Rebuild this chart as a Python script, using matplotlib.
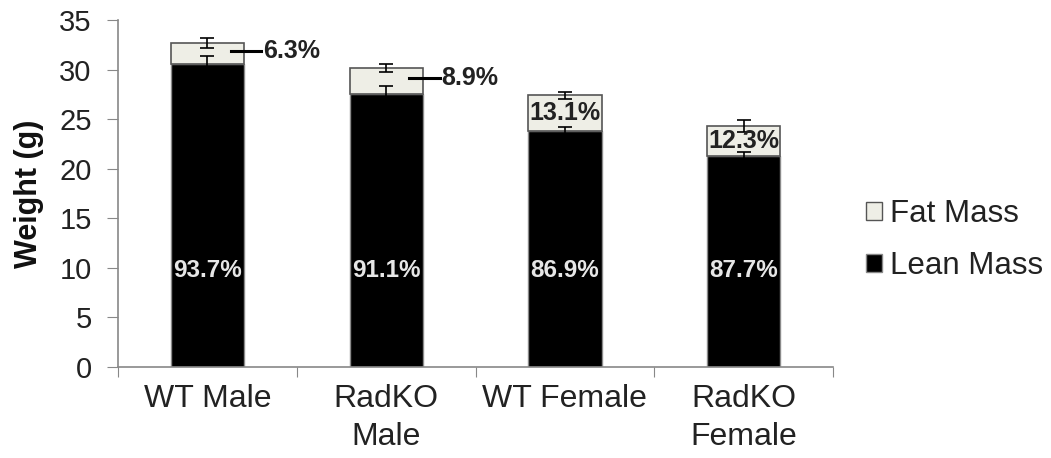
import matplotlib
matplotlib.use("Agg")
import matplotlib.pyplot as plt
from matplotlib.patches import Patch

plt.rcParams['font.family'] = ['Liberation Sans', 'DejaVu Sans']

categories = ["WT Male", "RadKO\nMale", "WT Female", "RadKO\nFemale"]
lean_mass = [30.6, 27.5, 23.8, 21.3]
fat_mass = [2.06, 2.68, 3.6, 3.0]
lean_err = [0.8, 0.9, 0.4, 0.4]
fat_err = [0.5, 0.4, 0.35, 0.6]
lean_pct = ["93.7%", "91.1%", "86.9%", "87.7%"]
fat_pct = ["6.3%", "8.9%", "13.1%", "12.3%"]

fig = plt.figure(figsize=(10.51, 4.58), dpi=100)
ax = fig.add_axes([0.1123, 0.1987, 0.6803, 0.7573])

x = list(range(len(categories)))
w = 0.41
totals = [l + f for l, f in zip(lean_mass, fat_mass)]

ax.bar(x, lean_mass, w, color='black', edgecolor='#8a8a8a', linewidth=1.0, zorder=2)
ax.bar(x, fat_mass, w, bottom=lean_mass, color='#eeeee6', edgecolor='#555555', linewidth=1.2, zorder=2)

ax.errorbar(x, lean_mass, yerr=lean_err, fmt='none', ecolor='black', elinewidth=1.2, capsize=5, capthick=1.2, zorder=3)
ax.errorbar(x, totals, yerr=fat_err, fmt='none', ecolor='black', elinewidth=1.2, capsize=5, capthick=1.2, zorder=3)

# lean labels
for i in x:
    ax.text(i, 9.7, lean_pct[i], ha='center', va='center', color='#e6e6e6',
            fontsize=17.5, fontweight='bold', zorder=4)

# fat labels
for i in x:
    if i < 2:
        yv = lean_mass[i] + fat_mass[i] * 0.62
        ax.plot([i + 0.13, i + 0.3], [yv, yv], color='black', lw=2.2, zorder=4, clip_on=False)
        ax.text(i + 0.31, yv, fat_pct[i], ha='left', va='center', color='#222222',
                fontsize=18, fontweight='bold', zorder=4)
    else:
        yv = lean_mass[i] + fat_mass[i] / 2
        ax.text(i, yv, fat_pct[i], ha='center', va='center', color='#222222',
                fontsize=18, fontweight='bold', zorder=4)

ax.set_xlim(-0.5, 3.5)
ax.set_ylim(0, 35)
ax.set_yticks(range(0, 36, 5))
ax.set_xticks([i - 0.5 for i in range(5)], minor=False)
ax.set_xticklabels([''] * 5)
ax.set_xticks(x, minor=True)
ax.set_xticklabels(categories, minor=True, linespacing=1.38)
ax.tick_params(axis='x', which='minor', length=0, pad=12, labelsize=23, labelcolor='#222222')
ax.tick_params(axis='x', which='major', length=7, color='#888888', direction='out')
ax.tick_params(axis='y', length=8, color='#888888', labelsize=21, labelcolor='#222222', pad=11)

for s in ['top', 'right']:
    ax.spines[s].set_visible(False)
for s in ['left', 'bottom']:
    ax.spines[s].set_color('#888888')
    ax.spines[s].set_linewidth(1.2)

ax.set_ylabel("Weight (g)", fontsize=22, fontweight='bold', color='#111111')
ax.yaxis.set_label_coords(-0.103, 0.5)

handles = [Patch(facecolor='#eeeee6', edgecolor='#555555', label='Fat Mass'),
           Patch(facecolor='black', edgecolor='#888888', label='Lean Mass')]
fig.legend(handles=handles, loc='center left', bbox_to_anchor=(0.824, 0.476),
           frameon=False, fontsize=22.5, handlelength=0.5, handleheight=0.5,
           handletextpad=0.27, labelspacing=0.72, labelcolor='#222222',
           borderpad=0, borderaxespad=0)

fig.savefig("out.png", dpi=100)
